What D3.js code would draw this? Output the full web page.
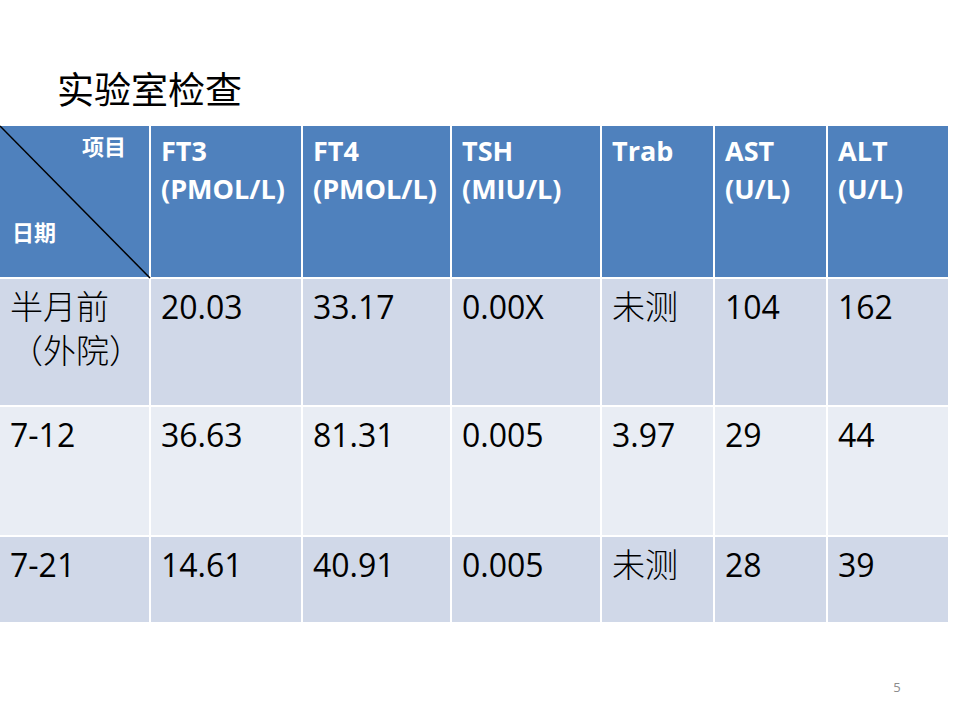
<!DOCTYPE html>
<html>
<head>
<meta charset="utf-8">
<script src="https://cdn.jsdelivr.net/npm/d3@7"></script>
<style>
  body { margin: 0; background: #fff; }
  svg { display: block; }
</style>
</head>
<body>
<div id="chart"></div>
<script>
// table contents
const title = '实验室检查';
const cornerTop = '项目';
const cornerBottom = '日期';
const headers = [
  ['FT3', '(PMOL/L)'],
  ['FT4', '(PMOL/L)'],
  ['TSH', '(MIU/L)'],
  ['Trab'],
  ['AST', '(U/L)'],
  ['ALT', '(U/L)'],
];
const dates = [['半月前', '（外院）'], ['7-12'], ['7-21']];
const ft3 = ['20.03', '36.63', '14.61'];
const ft4 = ['33.17', '81.31', '40.91'];
const tsh = ['0.00X', '0.005', '0.005'];
const trab = ['未测', '3.97', '未测'];
const ast = ['104', '29', '28'];
const alt = ['162', '44', '39'];
const pageNo = '5';

const width = 960;
const height = 720;

// layout
const colEdges = [0, 150, 302, 451, 601, 714, 827, 948];
const rowEdges = [126, 278, 406, 536, 623];
const headFill = '#4f81bd';
const rowFills = ['#d0d8e8', '#e9edf4'];
const latin = "'Open Sans', 'Noto Sans CJK SC', sans-serif";
const cjk = "'Noto Sans CJK SC', sans-serif";
const isCJK = s => /[\u3000-\u9fff\uff00-\uffef]/.test(s);

const svg = d3
  .select('#chart')
  .append('svg')
  .attr('width', width)
  .attr('height', height);

// title
svg
  .append('text')
  .attr('x', 57)
  .attr('y', 104)
  .attr('font-family', cjk)
  .attr('font-size', 37)
  .attr('fill', '#000')
  .text(title);

const columns = [dates, ft3, ft4, tsh, trab, ast, alt];

// cell backgrounds
const cells = [];
for (let r = 0; r < rowEdges.length - 1; r++) {
  for (let c = 0; c < colEdges.length - 1; c++) {
    cells.push({ r, c });
  }
}
svg
  .append('g')
  .selectAll('rect')
  .data(cells)
  .join('rect')
  .attr('x', d => colEdges[d.c] + (d.c ? 1 : 0))
  .attr('y', d => rowEdges[d.r] + (d.r ? 1 : 0))
  .attr('width', d => colEdges[d.c + 1] - colEdges[d.c] - (d.c ? 1 : 0) - (d.c < colEdges.length - 2 ? 1 : 0))
  .attr('height', d => rowEdges[d.r + 1] - rowEdges[d.r] - (d.r ? 1 : 0) - 1)
  .attr('fill', d => (d.r === 0 ? headFill : rowFills[(d.r - 1) % 2]));

// corner diagonal
svg
  .append('line')
  .attr('x1', colEdges[0])
  .attr('y1', rowEdges[0])
  .attr('x2', colEdges[1])
  .attr('y2', rowEdges[1])
  .attr('stroke', '#000')
  .attr('stroke-width', 1.5);

svg
  .append('text')
  .attr('x', 126)
  .attr('y', 155)
  .attr('text-anchor', 'end')
  .attr('font-family', cjk)
  .attr('font-weight', 'bold')
  .attr('font-size', 22)
  .attr('fill', '#fff')
  .text(cornerTop);

svg
  .append('text')
  .attr('x', 12)
  .attr('y', 241)
  .attr('font-family', cjk)
  .attr('font-weight', 'bold')
  .attr('font-size', 22)
  .attr('fill', '#fff')
  .text(cornerBottom);

// header labels
svg
  .append('g')
  .selectAll('text')
  .data(headers)
  .join('text')
  .attr('font-family', latin)
  .attr('font-weight', 'bold')
  .attr('font-size', 27)
  .attr('fill', '#fff')
  .each(function (lines, i) {
    d3.select(this)
      .selectAll('tspan')
      .data(lines)
      .join('tspan')
      .attr('x', colEdges[i + 1] + 11)
      .attr('y', (d, j) => 161 + j * 38)
      .text(d => d);
  });

// body cells, one text per line
const bodyLines = [];
columns.forEach((col, c) => {
  col.forEach((v, r) => {
    (Array.isArray(v) ? v : [v]).forEach((s, j) => bodyLines.push({ c, r, j, s }));
  });
});
const baselines = [319, 447, 577];

svg
  .append('g')
  .selectAll('text')
  .data(bodyLines)
  .join('text')
  .attr('fill', '#000')
  .attr('x', d => colEdges[d.c] + (d.c ? 11 : 10))
  .attr('y', d => baselines[d.r] + d.j * 44)
  .attr('font-family', d => (isCJK(d.s) ? cjk : latin))
  .attr('font-size', d => (isCJK(d.s) ? 33 : 32))
  .attr('font-weight', d => (isCJK(d.s) ? 300 : 'normal'))
  .text(d => d.s);

// page number
svg
  .append('text')
  .attr('x', 897)
  .attr('y', 692)
  .attr('text-anchor', 'middle')
  .attr('font-family', latin)
  .attr('font-size', 13)
  .attr('fill', '#8c8c8c')
  .text(pageNo);
</script>
</body>
</html>
